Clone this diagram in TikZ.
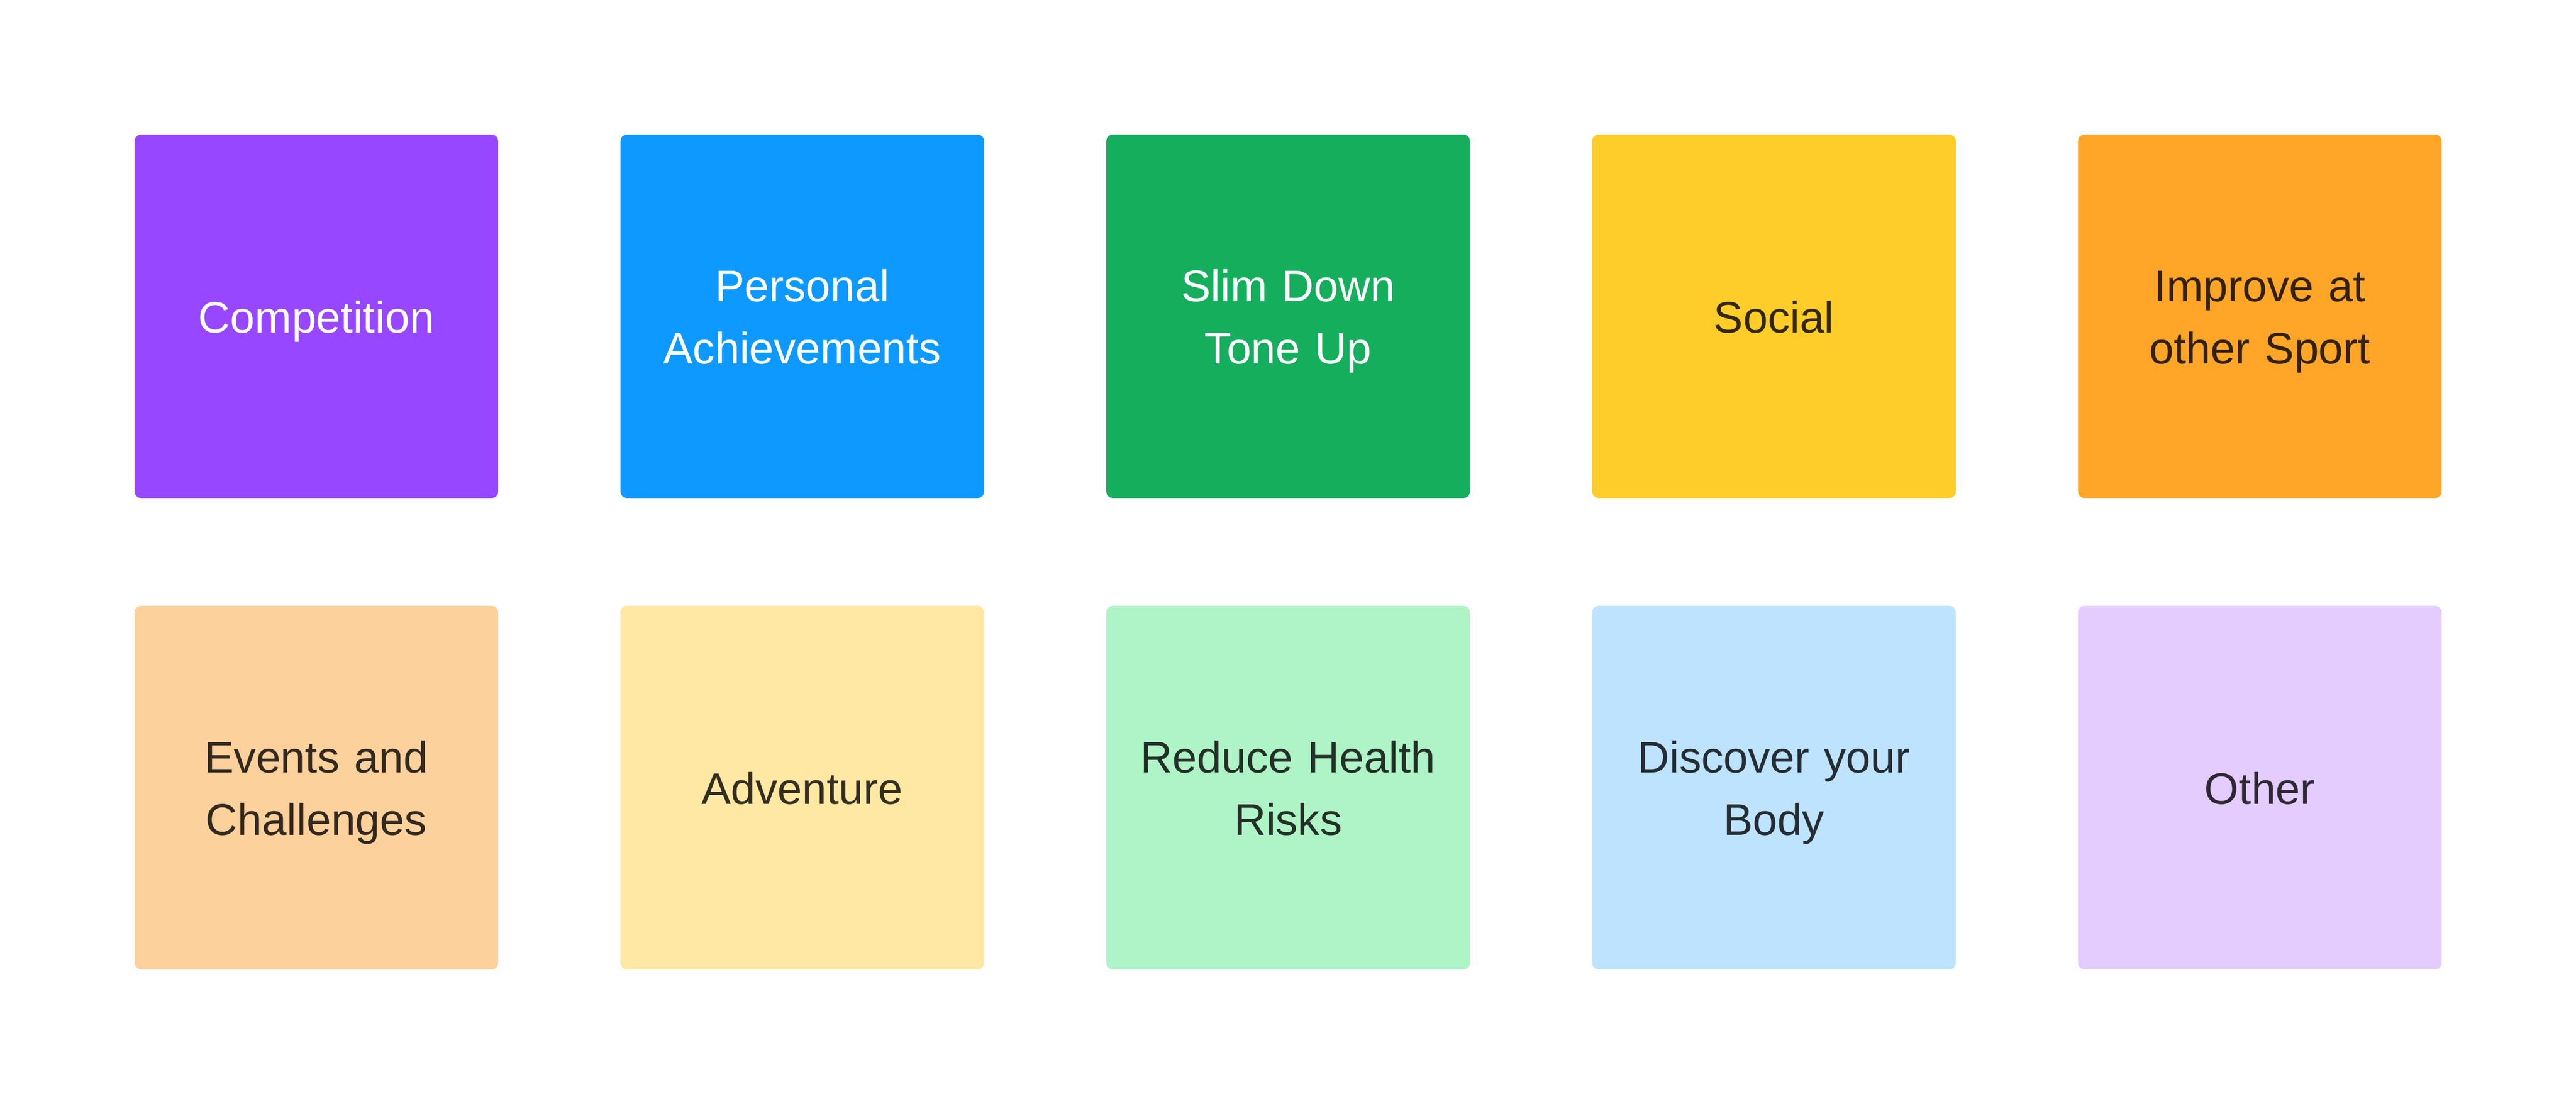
\documentclass[tikz,border=0pt]{standalone}
\usepackage{fontspec}
\setmainfont{Liberation Sans}
\definecolor{cPurple}{HTML}{9747FF}
\definecolor{cBlue}{HTML}{0D99FF}
\definecolor{cGreen}{HTML}{14AE5C}
\definecolor{cYellow}{HTML}{FFCD29}
\definecolor{cOrange}{HTML}{FFA629}
\definecolor{lOrange}{HTML}{FCD19C}
\definecolor{lYellow}{HTML}{FFE8A3}
\definecolor{lGreen}{HTML}{AFF4C6}
\definecolor{lBlue}{HTML}{BDE3FF}
\definecolor{lPurple}{HTML}{E4CCFF}
\newcommand\lstrut{\rule[-0.24em]{0pt}{1.22em}}
\begin{document}
\begin{tikzpicture}[
  card/.style={rectangle, rounded corners=3.4pt, minimum width=6.94cm, minimum height=6.94cm,
    inner sep=0pt, align=center, font=\fontsize{24}{34}\selectfont, text width=6.4cm},
  lighttext/.style={card, text=white},
  darkcard/.style={card, text=black, text opacity=0.8}
]
\useasboundingbox (0,0) rectangle (49.18,21.08);
\fill[white] (0,0) rectangle (49.18,21.08);
% row 1
\node[lighttext, fill=cPurple] (competition) at (6.04,15.04) {\lstrut Competition};
\node[lighttext, fill=cBlue] (personal) at (15.316,15.04) {\lstrut Personal\\\lstrut Achievements};
\node[lighttext, fill=cGreen] (slim) at (24.592,15.04) {\lstrut Slim Down\\\lstrut Tone Up};
\node[darkcard, fill=cYellow] (social) at (33.868,15.04) {\lstrut Social};
\node[darkcard, fill=cOrange] (improve) at (43.144,15.04) {\lstrut Improve at\\\lstrut other Sport};
% row 2
\node[darkcard, fill=lOrange] (events) at (6.04,6.04) {\lstrut Events and\\\lstrut Challenges};
\node[darkcard, fill=lYellow] (adventure) at (15.316,6.04) {\lstrut Adventure};
\node[darkcard, fill=lGreen] (health) at (24.592,6.04) {\lstrut Reduce Health\\\lstrut Risks};
\node[darkcard, fill=lBlue] (discover) at (33.868,6.04) {\lstrut Discover your\\\lstrut Body};
\node[darkcard, fill=lPurple] (other) at (43.144,6.04) {\lstrut Other};
\end{tikzpicture}
\end{document}
